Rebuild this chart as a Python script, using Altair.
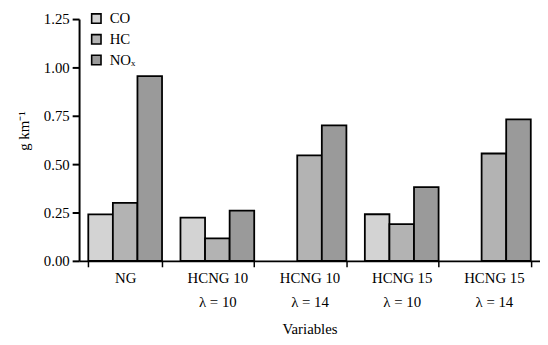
import altair as alt
import pandas as pd

groups = ["NG", "HCNG 10\nλ = 10", "HCNG 10\nλ = 14", "HCNG 15\nλ = 10", "HCNG 15\nλ = 14"]
series = ["CO", "HC", "NOₓ"]
co = [0.24, 0.223, None, 0.241, None]
hc = [0.30, 0.116, 0.545, 0.19, 0.555]
nox = [0.955, 0.26, 0.70, 0.381, 0.731]
colors = ["#d3d3d3", "#b3b3b3", "#9a9a9a"]
y_ticks = [0, 0.25, 0.5, 0.75, 1.0, 1.25]

rows = []
for name, vals in zip(series, [co, hc, nox]):
    for g, v in zip(groups, vals):
        if v is not None:
            rows.append({"group": g, "series": name, "value": v})
df = pd.DataFrame(rows)

FONT = "Liberation Serif"

chart = alt.Chart(df).mark_bar(stroke="black", strokeWidth=1.8).encode(
    x=alt.X("group:N", sort=groups,
            scale=alt.Scale(paddingInner=0.2, paddingOuter=0.1),
            axis=alt.Axis(title="Variables", labelAngle=0, tickBand="extent",
                          labelExpr="split(datum.label, '\\n')",
                          labelFontSize=15, titleFontSize=15, labelPadding=4,
                          titlePadding=13, tickSize=6, tickWidth=1.5,
                          domainWidth=2, domainColor="black", tickColor="black",
                          labelColor="black", titleColor="black",
                          titleFontWeight="normal", labelLineHeight=24)),
    xOffset=alt.XOffset("series:N", sort=series, scale=alt.Scale(paddingInner=0, paddingOuter=0)),
    y=alt.Y("value:Q", scale=alt.Scale(domain=[0, 1.25], nice=False),
            axis=alt.Axis(title="g km⁻¹", values=y_ticks, format=".2f", grid=False,
                          labelFontSize=15, titleFontSize=15, tickSize=7, tickWidth=2,
                          domainWidth=2, domainColor="black", tickColor="black",
                          labelColor="black", titleColor="black", labelPadding=3,
                          titlePadding=12, titleFontWeight="normal", titleY=113)),
    color=alt.Color("series:N", sort=series,
                    scale=alt.Scale(domain=series, range=colors),
                    legend=alt.Legend(title=None, orient="none", legendX=10, legendY=-8,
                                      symbolType="square", symbolSize=90,
                                      symbolStrokeColor="black", symbolStrokeWidth=1.6,
                                      labelFontSize=15, labelColor="black",
                                      rowPadding=4, padding=0, labelOffset=6)),
).properties(
    width=467, height=245,
    autosize=alt.AutoSizeParams(type="none"),
    padding={"left": 72, "top": 9, "right": 0, "bottom": 80},
).configure(font=FONT).configure_view(stroke=None)

chart.save("out.html", embed_options={"renderer": "svg", "actions": False})
